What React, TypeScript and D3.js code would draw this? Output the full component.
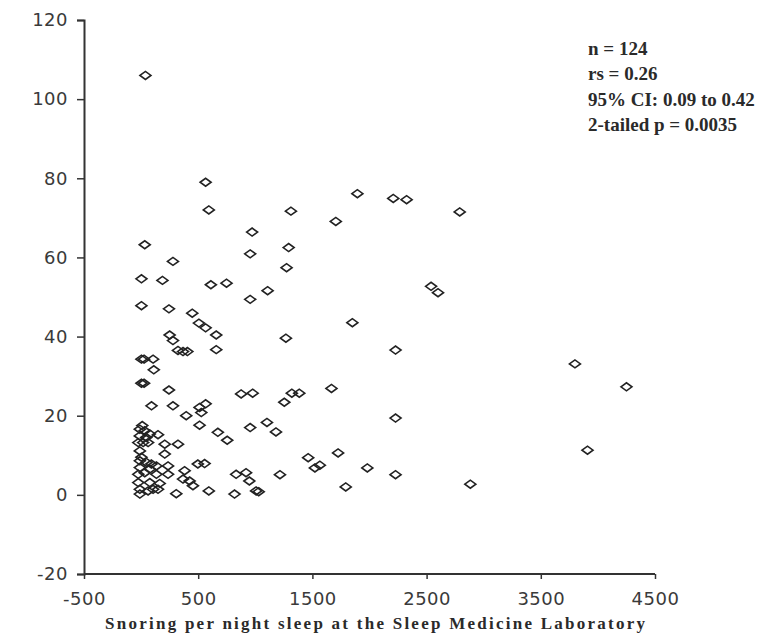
import React, { useEffect, useRef } from 'react';
import * as d3 from 'd3';

const width = 767;
const height = 636;
const margin = { top: 20, right: 110, bottom: 62, left: 84 };

const snoring = [
  38, 565, 593, 972, 32, 955, 279, 3, 187, 611, 748, 3, 244, 955, 448, 506,
  565, 658, 250, 279, 323, 367, 405, 658, 3, 26, 105, 111, 3, 26, 244, 876,
  977, 91, 279, 395, 512, 565, 527, 512, 955, 672, 754, -11, 32, -11, 76, 148,
  -25, 18, 61, -11, 207, 323, 207, 10, 45, -11, 47, 90, 134, -11, 76, 32,
  -25, 134, 236, 236, 381, 367, 425, 454, 497, 556, -25, -11, 76, 163, 148, 61,
  -11, 308, 593, 818, 832, 919, 948, 1007, 105, 3, 1894, 2208, 2325, 2790,
  1312, 1705, 1292, 1274, 1108, 2539, 2600, 1850, 1268, 2228, 1320, 1385, 1667,
  1254, 2228, 1102, 1181, 1463, 1522, 1565, 1725, 1981, 2228, 1792, 2883, 1216,
  1030, 3799, 4250, 3909,
];
const values = [
  106, 79, 72, 66.4, 63.2, 60.9, 59, 54.6, 54.2, 53.1, 53.5, 47.8, 47, 49.4,
  45.9, 43.4, 42.2, 40.4, 40.4, 39, 36.5, 36.2, 36.2, 36.7, 34.3, 34.3, 34.3,
  31.6, 28.2, 28.2, 26.5, 25.5, 25.7, 22.5, 22.5, 20, 22.1, 23, 20.8, 17.6, 17,
  15.8, 13.8, 16.6, 16.2, 14.9, 15.4, 15.2, 13.2, 13.2, 13.2, 11.1, 12.8, 12.8,
  10.3, 17.5, 14.5, 8.6, 8.2, 7.8, 7.3, 6.9, 6.5, 5.6, 5.2, 5.2, 7.3, 5.2, 6.1,
  4, 3.5, 2.3, 7.8, 7.9, 3.1, 1.4, 3.1, 2.9, 1.4, 1, 0.2, 0.3, 1, 0.2, 5.2, 5.6,
  3.5, 1, 1.4, 9.5, 76.1, 74.9, 74.6, 71.5, 71.7, 69.1, 62.5, 57.4, 51.6, 52.7,
  51.1, 43.5, 39.6, 36.6, 25.7, 25.7, 26.9, 23.4, 19.4, 18.3, 15.9, 9.4, 6.8,
  7.5, 10.6, 6.8, 5.1, 2, 2.7, 5.1, 0.8, 33.1, 27.3, 11.3,
];

const xTicks = [-500, 500, 1500, 2500, 3500, 4500];
const yTicks = [-20, 0, 20, 40, 60, 80, 100, 120];
const statLines = ['n = 124', 'rs = 0.26', '95% CI: 0.09 to 0.42', '2-tailed p = 0.0035'];
const xTitle = 'Snoring per night sleep at the Sleep Medicine Laboratory';

const x = d3.scaleLinear().domain([-500, 4500]).range([margin.left, 655]);
const y = d3.scaleLinear().domain([-20, 120]).range([height - margin.bottom, margin.top]);

const diamond = (cx: number, cy: number) =>
  `M${cx - 5.5},${cy} L${cx},${cy - 4} L${cx + 5.5},${cy} L${cx},${cy + 4} Z`;

export default function App() {
  const xAxisRef = useRef<SVGGElement>(null);
  const yAxisRef = useRef<SVGGElement>(null);

  useEffect(() => {
    const fmt = (d: d3.NumberValue) => String(d);
    const xAxis = d3.axisBottom(x).tickValues(xTicks).tickFormat(fmt).tickSize(5).tickPadding(13);
    const yAxis = d3.axisLeft(y).tickValues(yTicks).tickFormat(fmt).tickSize(7).tickPadding(9);
    const style = (g: d3.Selection<SVGGElement, unknown, null, undefined>) => {
      g.select('.domain').attr('stroke', '#333').attr('stroke-width', 2);
      g.selectAll('.tick line').attr('stroke', '#333').attr('stroke-width', 1.5);
      g.selectAll('.tick text')
        .attr('fill', '#3a3a3a')
        .style('font-family', '"DejaVu Sans", sans-serif')
        .style('font-size', '18px')
        .style('letter-spacing', '0.5px');
    };
    d3.select(xAxisRef.current).call(xAxis).call(style);
    d3.select(yAxisRef.current).call(yAxis).call(style);
    d3.select(xAxisRef.current).select('.domain').attr('d', `M${margin.left},0H655`);
  }, []);

  const statY = [55, 80, 106, 131];

  return (
    <svg
      width={width}
      height={height}
      style={{ position: 'absolute', left: 0, top: 0, background: 'white' }}
    >
      <g ref={xAxisRef} transform={`translate(0,${height - margin.bottom})`} />
      <g ref={yAxisRef} transform={`translate(${margin.left},0)`} />
      {snoring.map((s, i) => (
        <path
          key={i}
          d={diamond(x(s), y(values[i]))}
          fill="none"
          stroke="#222"
          strokeWidth={1.6}
        />
      ))}
      <g fontFamily='"Liberation Serif", serif' fontSize={19} fontWeight="bold" fill="#2a2a2a">
        {statLines.map((t, i) => (
          <text key={t} x={588} y={statY[i]}>
            {t}
          </text>
        ))}
      </g>
      <text
        x={105}
        y={629}
        textLength={540}
        fontFamily='"Liberation Serif", serif'
        fontSize={17}
        fontWeight="bold"
        fill="#2a2a2a"
      >
        {xTitle}
      </text>
    </svg>
  );
}
